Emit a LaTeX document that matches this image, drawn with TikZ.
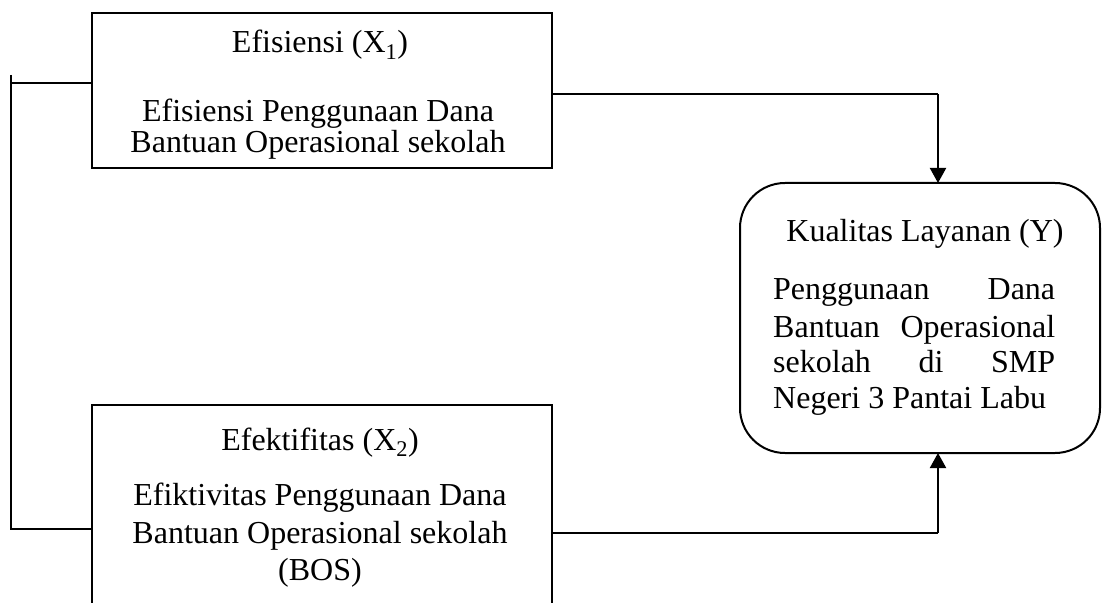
\documentclass[tikz,border=0pt]{standalone}
\usepackage{fontspec}
\setmainfont{Liberation Serif}
\usetikzlibrary{arrows.meta}
\begin{document}
\begin{tikzpicture}[x=1bp,y=-1bp,
 box/.style={draw, line width=2bp, inner sep=0pt, outer sep=0pt},
 txt/.style={anchor=base, inner sep=0pt, font=\fontsize{32bp}{36bp}\selectfont},
 ltxt/.style={txt, anchor=base west},
 conn/.style={line width=1.2bp},
 arr/.style={line width=2bp, -{Triangle[width=16bp,length=15bp]}}]
\clip (0,0) rectangle (1102,603);
% boxes
\node[box, minimum width=460bp, minimum height=155bp] (b1) at (322,90.5) {};
\node[box, minimum width=460bp, minimum height=235bp] (b2) at (322,522.5) {};
\node[box, rounded corners=45bp, minimum width=360bp, minimum height=270bp] (k) at (920,318) {};
% texts
\node[txt] (t1) at (320,53) {Efisiensi (X\textsubscript{1})};
\node[txt] (t1a) at (318,122) {Efisiensi Penggunaan Dana};
\node[txt] (t1b) at (318,153) {Bantuan Operasional sekolah};
\node[txt] (t2) at (320,450) {Efektifitas (X\textsubscript{2})};
\node[txt] (t2a) at (320,505) {Efiktivitas Penggunaan Dana};
\node[txt] (t2b) at (320,543) {Bantuan Operasional sekolah};
\node[txt] (t2c) at (320,580) {(BOS)};
\node[txt] (k0) at (925,242) {Kualitas Layanan (Y)};
\node[ltxt] (k1) at (773,300) {\makebox[282bp][s]{Penggunaan Dana}};
\node[ltxt] (k2) at (773,337) {\makebox[282bp][s]{Bantuan Operasional}};
\node[ltxt] (k3) at (773,372) {\makebox[282bp][s]{sekolah di SMP}};
\node[ltxt] (k4) at (773,408) {Negeri 3 Pantai Labu};
% connectors
\coordinate (ltop) at (11,75);
\coordinate (lbot) at (11,529);
\coordinate (lmid) at (11,83);
\draw[conn] (ltop) -- (lbot) -- (b2.west |- lbot);
\draw[conn] (lmid) -- (b1.west |- lmid);
\coordinate (c1) at (938,94);
\coordinate (c2) at (938,533);
\draw[conn] (b1.east |- c1) -- (c1);
\draw[arr] (c1) -- (k.north -| c1);
\draw[conn] (b2.east |- c2) -- (c2);
\draw[arr] (c2) -- (k.south -| c2);
\end{tikzpicture}
\end{document}
